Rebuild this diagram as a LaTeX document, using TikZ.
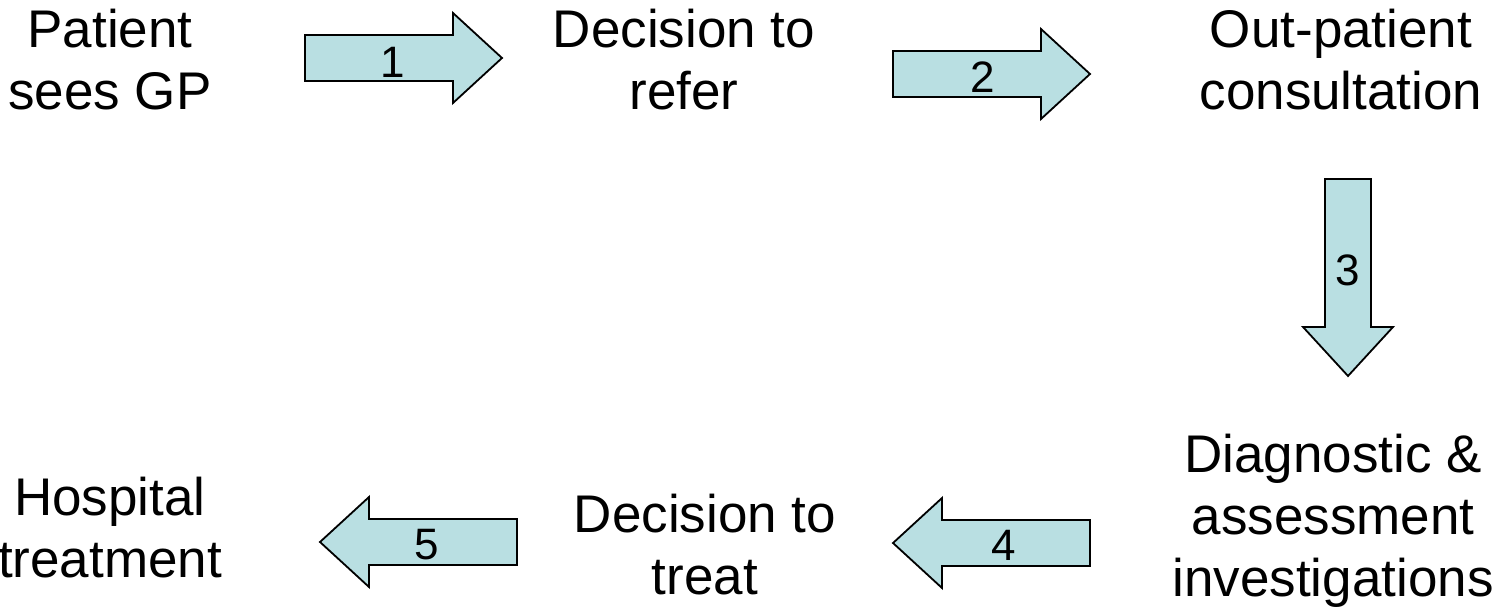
\documentclass[tikz,border=0pt]{standalone}
\usepackage{fontspec}
\setmainfont{Liberation Sans}
\definecolor{arrowfill}{RGB}{185,223,226}
\tikzset{
  stage/.style={align=center, anchor=base, inner sep=0pt,
    font=\fontsize{53}{62}\selectfont},
  stepnum/.style={anchor=center, inner sep=0pt,
    font=\fontsize{44}{50}\selectfont},
  blockarrow/.style={draw=black, line width=1.8pt, fill=arrowfill, line join=miter}
}
% block arrow: tail centre at #1, turned by #2 degrees
\newcommand\flowarrow[2]{%
  \begin{scope}[shift={(#1)}, rotate=#2]
    \draw[blockarrow] (0,-23) -- (148,-23) -- (148,-45) -- (197,0)
      -- (148,45) -- (148,23) -- (0,23) -- cycle;
  \end{scope}}
\begin{document}
\begin{tikzpicture}[x=1pt, y=-1pt]
  \useasboundingbox (0,0) rectangle (1495,607);

  % stages (anchored at the baseline of the last line)
  \node[stage] (gp)     at (110,110)  {Patient\\sees GP};
  \node[stage] (refer)  at (684,110)  {Decision to\\refer};
  \node[stage] (opc)    at (1341,110) {Out-patient\\consultation};
  \node[stage] (diag)   at (1333,596) {Diagnostic \&\\assessment\\investigations};
  \node[stage] (treat)  at (705,594)  {Decision to\\treat};
  \node[stage] (hosp)   at (110,577)  {Hospital\\treatment};

  % numbered block arrows
  \flowarrow{305,58}{0}
  \flowarrow{893,74}{0}
  \flowarrow{1348,179}{-90}
  \flowarrow{1090,543}{180}
  \flowarrow{517,542}{180}

  \node[stepnum] (n1) at (393,62)  {1};
  \node[stepnum] (n2) at (983,77)  {2};
  \node[stepnum] (n3) at (1348,270) {3};
  \node[stepnum] (n4) at (1004,545) {4};
  \node[stepnum] (n5) at (427,545) {5};
\end{tikzpicture}
\end{document}
